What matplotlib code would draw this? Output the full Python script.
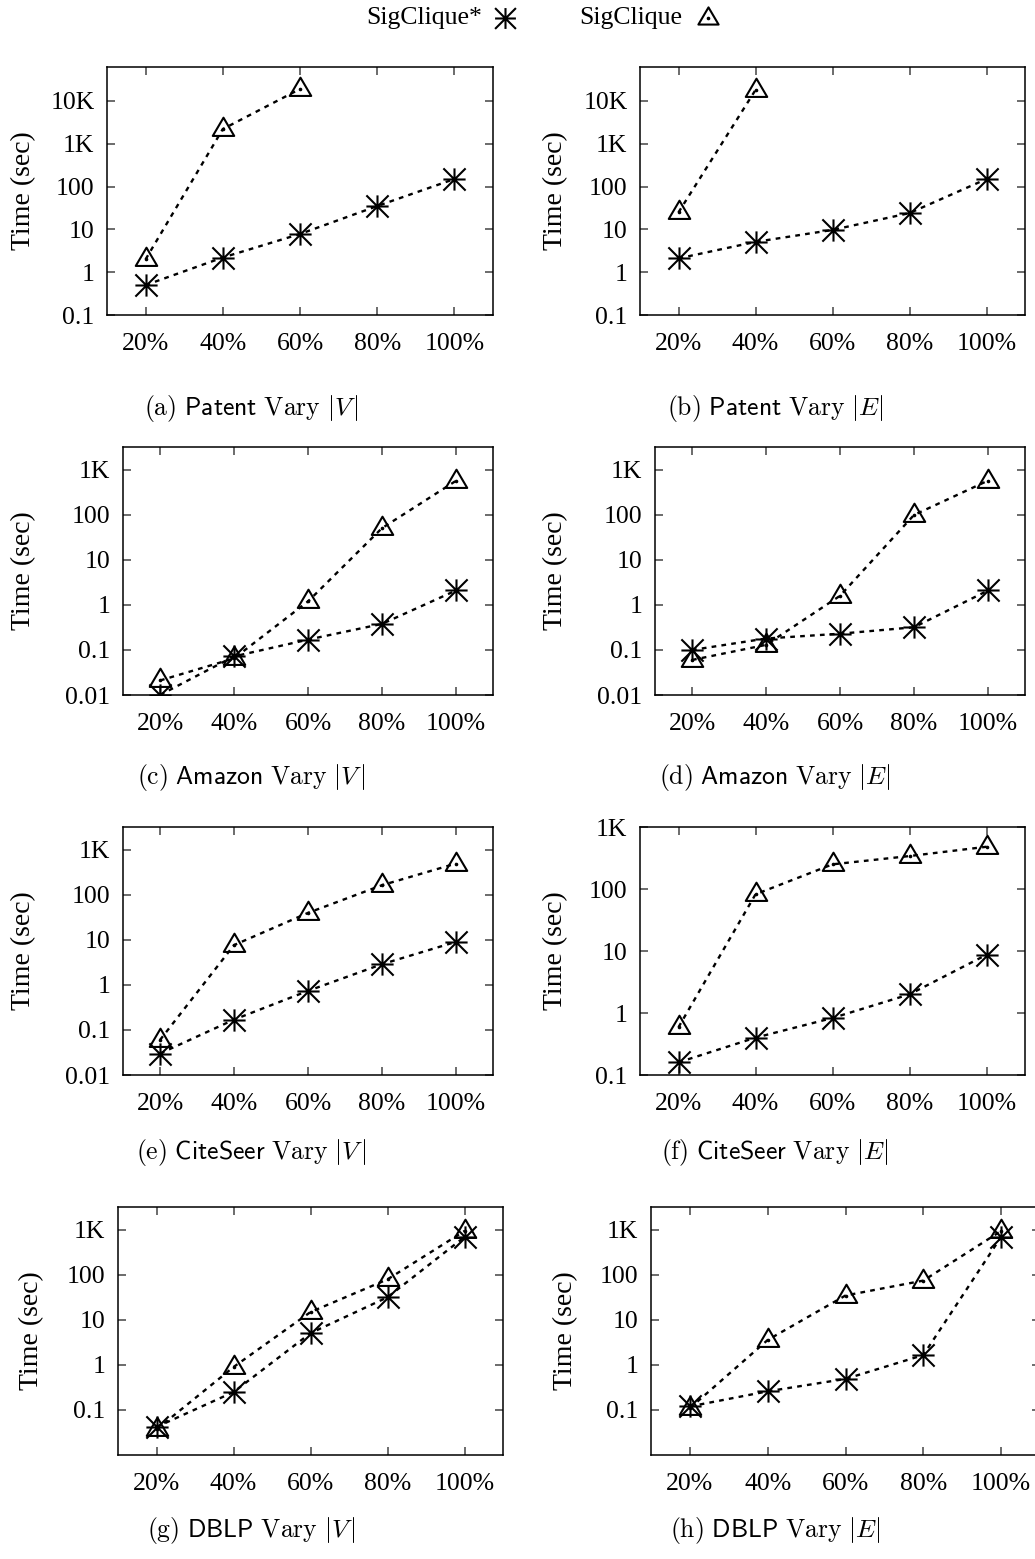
import matplotlib
matplotlib.use('Agg')
import matplotlib.pyplot as plt
from matplotlib.path import Path
from matplotlib.lines import Line2D
import matplotlib.ticker as mticker

W, H = 1035, 1559
plt.rcParams['font.family'] = ['Liberation Serif', 'DejaVu Serif']
plt.rcParams['mathtext.fontset'] = 'cm'

# ---------------- data ----------------
x_labels = ['20%', '40%', '60%', '80%', '100%']
x_pos = [1, 2, 3, 4, 5]

patent_v_star = [0.5, 2.2, 7.8, 35, 150]
patent_v_tri = [2.0, 2200, 19000]
patent_e_star = [2.1, 5.1, 9.7, 24, 150]
patent_e_tri = [25, 18000]
amazon_v_star = [0.01, 0.072, 0.17, 0.38, 2.1]
amazon_v_tri = [0.021, 0.065, 1.2, 51, 575]
amazon_e_star = [0.1, 0.18, 0.23, 0.32, 2.1]
amazon_e_tri = [0.06, 0.13, 1.6, 100, 580]
citeseer_v_star = [0.03, 0.17, 0.74, 2.9, 9.1]
citeseer_v_tri = [0.06, 7.7, 40, 165, 500]
citeseer_e_star = [0.16, 0.4, 0.83, 2.0, 8.7]
citeseer_e_tri = [0.59, 82, 250, 340, 480]
dblp_v_star = [0.042, 0.25, 5.1, 32, 700]
dblp_v_tri = [0.037, 0.9, 15, 80, 950]
dblp_e_star = [0.12, 0.26, 0.49, 1.66, 700]
dblp_e_tri = [0.11, 3.6, 35, 75, 950]

series_names = ['SigClique*', 'SigClique']
captions = [
    r'$\mathrm{(a)}\ \mathsf{Patent}\ \mathrm{Vary}\ |V\,|$',
    r'$\mathrm{(b)}\ \mathsf{Patent}\ \mathrm{Vary}\ |E|$',
    r'$\mathrm{(c)}\ \mathsf{Amazon}\ \mathrm{Vary}\ |V\,|$',
    r'$\mathrm{(d)}\ \mathsf{Amazon}\ \mathrm{Vary}\ |E|$',
    r'$\mathrm{(e)}\ \mathsf{CiteSeer}\ \mathrm{Vary}\ |V\,|$',
    r'$\mathrm{(f)}\ \mathsf{CiteSeer}\ \mathrm{Vary}\ |E|$',
    r'$\mathrm{(g)}\ \mathsf{DBLP}\ \mathrm{Vary}\ |V\,|$',
    r'$\mathrm{(h)}\ \mathsf{DBLP}\ \mathrm{Vary}\ |E|$',
]
star_data = [patent_v_star, patent_e_star, amazon_v_star, amazon_e_star,
             citeseer_v_star, citeseer_e_star, dblp_v_star, dblp_e_star]
tri_data = [patent_v_tri, patent_e_tri, amazon_v_tri, amazon_e_tri,
            citeseer_v_tri, citeseer_e_tri, dblp_v_tri, dblp_e_tri]
y_label = 'Time (sec)'
tick_text = {0.01: '0.01', 0.1: '0.1', 1: '1', 10: '10', 100: '100',
             1000: '1K', 10000: '10K'}

# ---------------- layout (pixels) ----------------
# left, right, top, bottom, ylim, yticks, ylabel-x, caption center x, caption y
layout = [
    (107, 493, 67, 315, (0.1, 6.2e4), [0.1, 1, 10, 100, 1e3, 1e4], 24, 251, 408),
    (640, 1025, 67, 315, (0.1, 6.2e4), [0.1, 1, 10, 100, 1e3, 1e4], 556, 775, 408),
    (123, 493, 447, 695, (0.01, 3240), [0.01, 0.1, 1, 10, 100, 1e3], 24, 251, 778),
    (655, 1025, 447, 695, (0.01, 3240), [0.01, 0.1, 1, 10, 100, 1e3], 556, 775, 778),
    (123, 493, 827, 1075, (0.01, 3240), [0.01, 0.1, 1, 10, 100, 1e3], 24, 251, 1153),
    (640, 1025, 827, 1075, (0.1, 1000), [0.1, 1, 10, 100, 1e3], 556, 775, 1153),
    (118, 503, 1207, 1455, (0.01, 3240), [0.1, 1, 10, 100, 1e3], 32, 251, 1530),
    (651, 1040, 1207, 1455, (0.01, 3240), [0.1, 1, 10, 100, 1e3], 566, 775, 1530),
]

star_path = Path(
    [(-1, 0), (1, 0), (0, -1), (0, 1), (-1, -1), (1, 1), (-1, 1), (1, -1)],
    [Path.MOVETO, Path.LINETO] * 4)
tri_path = Path([(-1, -0.6), (1, -0.6), (0, 1.1), (-1, -0.6)],
                [Path.MOVETO, Path.LINETO, Path.LINETO, Path.CLOSEPOLY])

fig = plt.figure(figsize=(W / 100, H / 100), dpi=100)

line_kw = dict(color='black', lw=1.7, linestyle=(0, (2, 2.2)))
mk_kw = dict(color='black', markeredgewidth=1.5,
             markerfacecolor='none', linestyle='none')

for i, (l, r, t, b, ylim, yt, ylx, cx, cy) in enumerate(layout):
    ax = fig.add_axes([l / W, 1 - b / H, (r - l) / W, (b - t) / H])
    sd = star_data[i]
    td = tri_data[i]
    ax.plot(x_pos[:len(sd)], sd, **line_kw)
    ax.plot(x_pos[:len(td)], td, **line_kw)
    ax.plot(x_pos[:len(sd)], sd, marker=star_path, markersize=16, **mk_kw)
    ax.plot(x_pos[:len(td)], td, marker=tri_path, markersize=17, **mk_kw)
    ax.plot(x_pos[:len(td)], td, marker='o', color='black', markersize=1.6,
            linestyle='none')
    ax.set_yscale('log')
    ax.set_ylim(*ylim)
    ax.set_xlim(0.5, 5.5)
    ax.set_xticks(x_pos)
    ax.set_xticklabels(x_labels)
    ax.yaxis.set_major_locator(mticker.FixedLocator(yt))
    ax.yaxis.set_minor_locator(mticker.NullLocator())
    ax.set_yticklabels([tick_text[v] for v in yt])
    ax.tick_params(axis='both', which='major', direction='in', length=6,
                   width=1.1, color='#444444', labelsize=18.5, top=True,
                   right=True)
    ax.tick_params(axis='x', pad=13)
    ax.tick_params(axis='y', pad=9)
    for sp in ax.spines.values():
        sp.set_linewidth(1.1)
    ax.patch.set_alpha(0)
    fig.text(ylx / W, 1 - ((t + b) / 2) / H, y_label, rotation=90,
             ha='center', va='center', fontsize=20)
    fig.text(cx / W, 1 - cy / H, captions[i], ha='center', va='center',
             fontsize=18.5)

# legend
ly = 1 - 18 / H
fig.text(482 / W, ly, series_names[0], ha='right', va='center', fontsize=18.5)
fig.text(682 / W, ly, series_names[1], ha='right', va='center', fontsize=18.5)
fig.add_artist(Line2D([505 / W], [ly], transform=fig.transFigure,
                      marker=star_path, color='black', markersize=15,
                      markeredgewidth=1.5, linestyle='none'))
fig.add_artist(Line2D([708 / W], [ly], transform=fig.transFigure,
                      marker=tri_path, color='black', markersize=16,
                      markeredgewidth=1.5, markerfacecolor='none',
                      linestyle='none'))
fig.add_artist(Line2D([708 / W], [ly], transform=fig.transFigure,
                      marker='o', color='black', markersize=1.6,
                      linestyle='none'))

fig.savefig('out.png', dpi=100)
